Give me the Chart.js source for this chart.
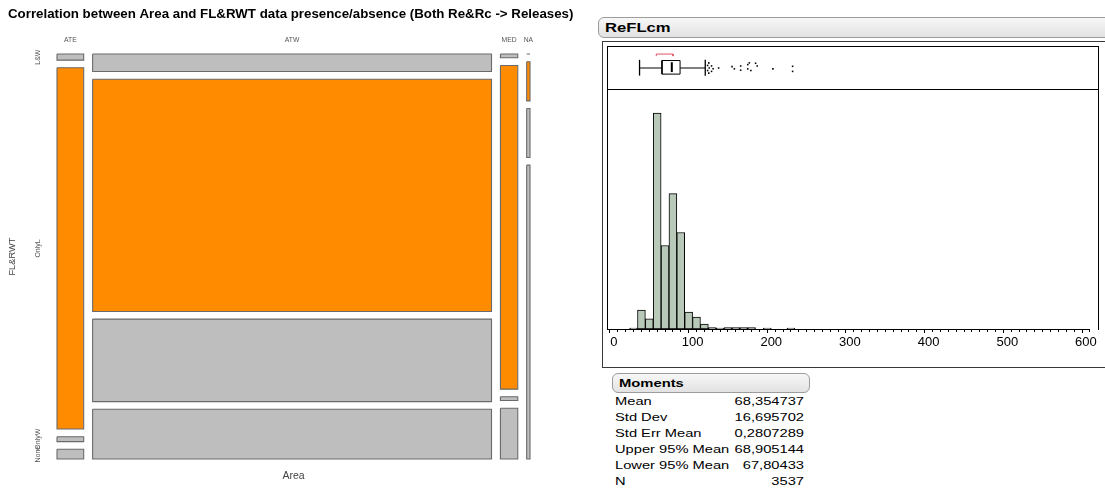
<!DOCTYPE html>
<html>
<head>
<meta charset="utf-8">
<title>Area vs FL&amp;RWT and ReFLcm distribution</title>
<script src="https://cdn.jsdelivr.net/npm/chart.js@4.4.1/dist/chart.umd.min.js"></script>
<style>
  html, body { margin: 0; padding: 0; background: #fff; }
  body { position: relative; width: 1105px; height: 490px; overflow: hidden;
         font-family: "Liberation Sans", Arial, sans-serif; color: #000; }
  canvas { position: absolute; display: block; }
  .head { position: absolute; box-sizing: border-box; border: 1px solid #9c9c9c; border-radius: 6px;
          background: linear-gradient(#f7f7f7, #e2e2e2); }
  .head span { position: absolute; left: 6px; top: 50%; font-weight: bold; white-space: nowrap;
               transform-origin: left center; transform: translateY(-50%) scaleX(1.32); }
  .box { position: absolute; box-sizing: border-box; }
  .mrow { position: absolute; height: 16px; line-height: 16px; font-size: 11.3px; white-space: nowrap; }
  .mlab { left: 615px; transform-origin: left center; transform: scaleX(1.3); }
  .mval { left: 650px; width: 154px; text-align: right; transform-origin: right center; transform: scaleX(1.3); }
</style>
</head>
<body>
<canvas id="mosaic" width="595" height="490" style="left:0;top:0"></canvas>

<div class="head" style="left:598px;top:17px;width:530px;height:21px"><span style="font-size:12.6px">ReFLcm</span></div>
<div class="box" style="left:602px;top:41px;width:530px;height:327px;border:1px solid #3a3a3a"></div>
<div class="box" style="left:607px;top:46px;width:492px;height:284px;border:1px solid #000;border-bottom:none"></div>
<div class="box" style="left:607px;top:89px;width:492px;height:1px;background:#000"></div>
<canvas id="boxplot" width="490" height="42" style="left:608px;top:47px"></canvas>
<canvas id="hist" width="490" height="264" style="left:608px;top:90px"></canvas>

<div class="head" style="left:612px;top:373px;width:198px;height:20px"><span style="font-size:11.2px">Moments</span></div>
<div id="moments"></div>

<script>
// ---------- Mosaic: releases by Area and FL&RWT presence ----------
const areas = ['ATE', 'ATW', 'MED', 'NA'];
const presence = ['L&W', 'OnlyL', 'OnlyW', 'None'];
const countsATE = [5, 296, 4, 8];
const countsATW = [214, 2844, 1010, 609];
const countsMED = [2, 172, 2, 27];
const countsNA = [0, 4, 5, 30];
const highlightRow = 'OnlyL';

// ---------- ReFLcm distribution ----------
const binStarts = [20, 30, 40, 50, 60, 70, 80, 90, 100, 110, 120, 130, 140, 150, 160, 170, 180, 190, 200, 210, 220];
const binCounts = [6, 110, 60, 1260, 487, 790, 563, 99, 70, 29, 9, 6, 9, 9, 9, 9, 0, 6, 0, 0, 6];
const binWidth = 10;
const axisTickLabels = [0, 100, 200, 300, 400, 500, 600];

const boxMin = 27.5, boxQ1 = 56, boxMedian = 68.5, boxQ3 = 79, boxMax = 111;
const shortestHalf = [48.75, 70];
const outlierValues  = [114, 114, 115.5, 115.5, 116, 119, 121, 119, 128, 145, 148, 156, 156, 165, 165, 167, 169, 175, 177, 197, 222, 222];
const outlierOffsets = [0.15, -0.15, 0.3, -0.3, 0, 0.12, -0.04, -0.2, 0, 0.08, -0.05, 0.12, -0.13, 0.2, -0.05, 0.3, -0.15, 0.28, 0.12, -0.05, 0.1, -0.2];

const momentLabels = ['Mean', 'Std Dev', 'Std Err Mean', 'Upper 95% Mean', 'Lower 95% Mean', 'N'];
const momentValues = ['68,354737', '16,695702', '0,2807289', '68,905144', '67,80433', '3537'];

Chart.defaults.font.family = '"Liberation Sans", Arial, sans-serif';
Chart.defaults.animation = false;

// ---------- mosaic geometry (equal spacing between tiles) ----------
const spacing = 0.02;
const columns = [countsATE, countsATW, countsMED, countsNA];
const sum = a => a.reduce((s, v) => s + v, 0);
const grand = sum(columns.map(sum));
const spanX = 1 + spacing * (columns.length - 1);
const spanY = 1 + spacing * (presence.length - 1);

const tiles = [];
const colCenters = [];
let xCursor = 0;
columns.forEach(col => {
  const colTotal = sum(col);
  const w = colTotal / grand;
  colCenters.push(xCursor + w / 2);
  let yCursor = 0;
  col.forEach((n, r) => {
    const h = n / colTotal;
    tiles.push({ x0: xCursor, x1: xCursor + w, y0: yCursor, y1: yCursor + h, row: r });
    yCursor += h + spacing;
  });
  xCursor += w + spacing;
});
// row labels follow the first column's tiles
const rowCenters = tiles.filter((t, i) => i < presence.length).map(t => (t.y0 + t.y1) / 2);

const tileFill = r => presence[r] === highlightRow ? '#ff8c00' : '#bebebe';
const outlineSets = tiles.map(t => ({
  data: [{x: t.x0, y: t.y0}, {x: t.x1, y: t.y0}, {x: t.x1, y: t.y1}, {x: t.x0, y: t.y1}, {x: t.x0, y: t.y0}],
  borderColor: '#6a6a6a', borderWidth: 1.1, fill: false, pointRadius: 0, clip: 4
}));
const fillSets = tiles.map(t => ({
  data: [{x: t.x0, y: t.y0}, {x: t.x1, y: t.y0}],
  fill: {value: t.y1}, backgroundColor: tileFill(t.row),
  borderColor: 'transparent', borderWidth: 0, pointRadius: 0
}));

new Chart(document.getElementById('mosaic'), {
  type: 'line',
  data: { datasets: [...outlineSets, ...fillSets] },
  options: {
    responsive: false,
    events: [],
    layout: { padding: { left: 8, right: 0, top: 0, bottom: 0 } },
    elements: { line: { tension: 0 }, point: { radius: 0 } },
    plugins: {
      legend: { display: false },
      tooltip: { enabled: false },
      title: {
        display: true, align: 'start', color: '#000',
        text: 'Correlation between Area and FL&RWT data presence/absence (Both Re&Rc -> Releases)',
        font: { size: 13.3, weight: 'bold' }, padding: { top: 6, bottom: 3 }
      }
    },
    scales: {
      x: {
        type: 'linear', position: 'bottom', min: 0, max: spanX,
        grid: { display: false }, border: { display: false }, ticks: { display: false },
        title: { display: true, text: 'Area', color: '#444', font: { size: 10.5 }, padding: { top: 0, bottom: 7.7 } },
        afterFit: s => { s.height = 31; }
      },
      xTop: {
        type: 'linear', position: 'top', min: 0, max: spanX,
        grid: { display: false }, border: { display: false },
        afterBuildTicks: a => { a.ticks = colCenters.map(v => ({ value: v })); },
        ticks: { autoSkip: false, maxRotation: 0, color: '#555', font: { size: 6.75 }, padding: 2,
                 callback: (v, i) => areas[i] },
        afterFit: s => { s.height = 30.6 - 1.5; }
      },
      y: {
        type: 'linear', position: 'left', min: 0, max: spanY, reverse: true,
        grid: { display: false }, border: { display: false },
        afterBuildTicks: a => { a.ticks = rowCenters.map(v => ({ value: v })); },
        ticks: { autoSkip: false, minRotation: 90, maxRotation: 90, crossAlign: 'center', padding: 0,
                 color: '#555', font: { size: 7 }, callback: (v, i) => presence[i] },
        title: { display: true, text: 'FL&RWT', color: '#444', font: { size: 9.3 }, padding: { top: -1.5, bottom: 0 } },
        afterFit: s => { s.width = 49; }
      },
      yRight: {
        type: 'linear', position: 'right',
        grid: { display: false }, border: { display: false }, ticks: { display: false },
        afterFit: s => { s.width = 65; }
      }
    }
  }
});

// ---------- shared horizontal scale of the distribution panel ----------
const axisMin = -7.5, axisMax = 605;

// ---------- outlier box plot ----------
const seg = (pts, extra) => Object.assign({
  data: pts, borderColor: '#000', borderWidth: 1, fill: false, pointRadius: 0, clip: 4
}, extra || {});
const boxLo = -0.36, boxHi = 0.44;

new Chart(document.getElementById('boxplot'), {
  type: 'line',
  data: {
    datasets: [
      seg([{x: boxMin, y: 0}, {x: boxQ1, y: 0}]),
      seg([{x: boxQ3, y: 0}, {x: boxMax, y: 0}]),
      seg([{x: boxMin, y: -0.45}, {x: boxMin, y: 0.48}], { borderWidth: 1.3 }),
      seg([{x: boxMax, y: -0.45}, {x: boxMax, y: 0.48}], { borderWidth: 1.3 }),
      seg([{x: boxQ1, y: boxLo}, {x: boxQ3, y: boxLo}, {x: boxQ3, y: boxHi}, {x: boxQ1, y: boxHi}, {x: boxQ1, y: boxLo}]),
      seg([{x: boxMedian, y: -0.24}, {x: boxMedian, y: 0.34}], { borderWidth: 2 }),
      seg([{x: shortestHalf[0], y: 0.7}, {x: shortestHalf[0], y: 0.82}, {x: shortestHalf[1], y: 0.82}, {x: shortestHalf[1], y: 0.7}],
          { borderColor: '#e0505f' }),
      {
        data: outlierValues.map((v, i) => ({ x: v, y: outlierOffsets[i] })),
        showLine: false, pointStyle: 'rect', pointRadius: 1.1,
        pointBackgroundColor: '#000', pointBorderWidth: 0, borderColor: '#000'
      }
    ]
  },
  options: {
    responsive: false, events: [],
    layout: { padding: 0 },
    plugins: { legend: { display: false }, tooltip: { enabled: false } },
    scales: {
      x: { type: 'linear', display: false, min: axisMin, max: axisMax },
      y: { type: 'linear', display: false, min: -1, max: 1 }
    }
  }
});

// ---------- histogram ----------
const minorTicks = [];
for (let v = 0; v <= 600; v += 10) minorTicks.push(v);

new Chart(document.getElementById('hist'), {
  type: 'bar',
  data: {
    datasets: [{
      data: binStarts.map((b, i) => ({ x: b + binWidth / 2, y: binCounts[i] })),
      backgroundColor: '#b9c9b9', borderColor: '#000', borderWidth: 1, borderSkipped: false,
      barPercentage: 1, categoryPercentage: 1
    }]
  },
  options: {
    responsive: false, events: [],
    layout: { padding: 0 },
    plugins: { legend: { display: false }, tooltip: { enabled: false } },
    scales: {
      x: {
        type: 'linear', min: axisMin, max: axisMax, offset: false,
        grid: {
          display: true, drawOnChartArea: false, drawTicks: true, tickLength: 4,
          color: '#000', tickColor: '#000',
          tickBorderDash: ctx => (ctx.tick && axisTickLabels.includes(ctx.tick.value)) ? [] : [2, 10]
        },
        border: { display: true, color: '#000', width: 1 },
        afterBuildTicks: a => { a.ticks = minorTicks.map(v => ({ value: v })); },
        ticks: {
          autoSkip: false, maxRotation: 0, padding: 1.2, color: '#000', font: { size: 13 },
          callback: v => axisTickLabels.includes(v) ? String(v) : ''
        },
        afterFit: s => { s.height = 25; }
      },
      y: { display: false, min: 0, max: 1394 }
    }
  }
});

// ---------- Moments table ----------
const momentsEl = document.getElementById('moments');
momentLabels.forEach((lab, i) => {
  const top = 393 + i * 16;
  const l = document.createElement('div');
  l.className = 'mrow mlab'; l.style.top = top + 'px'; l.textContent = lab;
  const v = document.createElement('div');
  v.className = 'mrow mval'; v.style.top = top + 'px'; v.textContent = momentValues[i];
  momentsEl.appendChild(l); momentsEl.appendChild(v);
});
</script>
</body>
</html>
